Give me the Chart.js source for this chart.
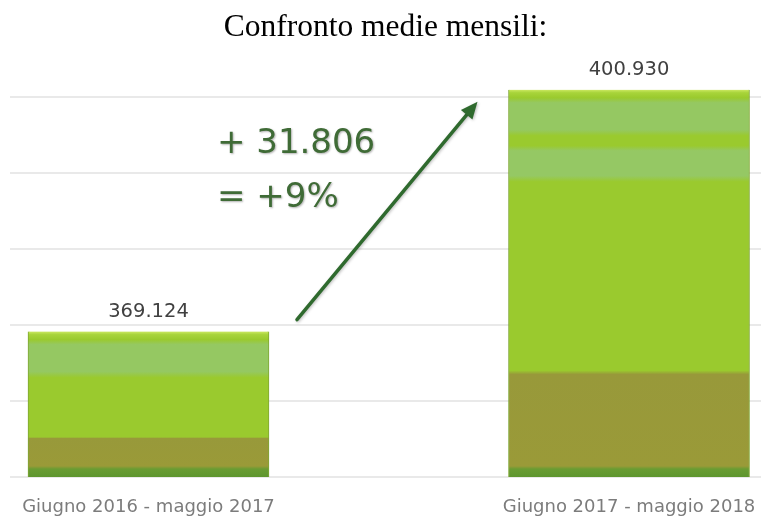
<!DOCTYPE html>
<html><head><meta charset="utf-8">
<script src="https://cdn.jsdelivr.net/npm/chart.js@4"></script>
<style>html,body{margin:0;padding:0;background:#fff;overflow:hidden}#wrap{width:761px;height:517px;position:relative}</style>
</head><body><div id="wrap"><canvas id="c"></canvas></div>
<script>
const chartTitle = 'Confronto medie mensili:';
const categories = ['Giugno 2016 - maggio 2017', 'Giugno 2017 - maggio 2018'];
const values = [369124, 400930];
const yTickValues = [350000, 360000, 370000, 380000, 390000, 400000];

const fmt = n => String(Math.round(n)).replace(/\B(?=(\d{3})+(?!\d))/g, '.');
const diff = values[1] - values[0];
const pct = Math.round(diff / values[0] * 100);
const annoLines = ['+ ' + fmt(diff), '= +' + pct + '%'];

function barFill(context) {
  const chart = context.chart;
  if (!chart.chartArea) return '#9aca2e';
  const y = chart.scales.y;
  const top = y.getPixelForValue(context.raw.y);
  const bottom = y.getPixelForValue(y.min);
  const h = Math.max(bottom - top, 1);
  const f = px => Math.min(Math.max(px / h, 0), 1);
  const g = chart.ctx.createLinearGradient(0, top, 0, bottom);
  g.addColorStop(0, '#cbe862');
  g.addColorStop(f(3), '#a8d43a');
  g.addColorStop(f(8), '#9aca2e');
  g.addColorStop(f(13), '#95c862');
  g.addColorStop(f(40), '#95c862');
  g.addColorStop(f(46), '#9aca2e');
  if (h > 200) {
    g.addColorStop(f(56), '#9aca2e');
    g.addColorStop(f(61), '#95c864');
    g.addColorStop(f(86), '#95c864');
    g.addColorStop(f(92), '#9aca2e');
  }
  g.addColorStop(0.725, '#9aca2e');
  g.addColorStop(0.735, '#98993a');
  g.addColorStop(f(h - 11), '#9a9a38');
  g.addColorStop(f(h - 8), '#6a9c32');
  g.addColorStop(1, '#5e962e');
  return g;
}

const annotate = {
  id: 'annotate',
  afterDatasetsDraw(chart) {
    const {ctx, scales: {y}} = chart;
    const meta = chart.getDatasetMeta(0);
    const b0 = meta.data[0], b1 = meta.data[1];
    ctx.save();
    ctx.font = '19.5px "DejaVu Sans"';
    ctx.fillStyle = '#404040';
    ctx.textAlign = 'center';
    ctx.textBaseline = 'alphabetic';
    meta.data.forEach((el, i) => ctx.fillText(fmt(values[i]), el.x, el.y - 15));
    const x0 = b0.x + b0.width / 2 + 28, y0 = b0.y - 12;
    const x1 = b1.x - b1.width / 2 - 31, y1 = b1.y + 12;
    const ang = Math.atan2(y1 - y0, x1 - x0);
    const hl = 17, hw = 7.5;
    const bx = x1 - hl * Math.cos(ang), by = y1 - hl * Math.sin(ang);
    ctx.shadowColor = 'rgba(0,0,0,0.25)';
    ctx.shadowBlur = 3; ctx.shadowOffsetX = 1; ctx.shadowOffsetY = 1;
    ctx.strokeStyle = '#2f6a2e'; ctx.fillStyle = '#2f6a2e';
    ctx.lineWidth = 3.5; ctx.lineCap = 'round';
    ctx.beginPath(); ctx.moveTo(x0, y0); ctx.lineTo(bx, by); ctx.stroke();
    ctx.beginPath();
    ctx.moveTo(x1, y1);
    ctx.lineTo(bx + hw * Math.sin(ang), by - hw * Math.cos(ang));
    ctx.lineTo(bx - hw * Math.sin(ang), by + hw * Math.cos(ang));
    ctx.closePath(); ctx.fill();
    ctx.font = '34px "DejaVu Sans"';
    ctx.fillStyle = '#3f6b36';
    ctx.textAlign = 'left';
    ctx.shadowColor = 'rgba(0,0,0,0.3)';
    ctx.shadowBlur = 2; ctx.shadowOffsetX = 1; ctx.shadowOffsetY = 1;
    const tx = b0.x + b0.width / 2 - 52;
    ctx.fillText(annoLines[0], tx, y.getPixelForValue(392600));
    ctx.fillText(annoLines[1], tx, y.getPixelForValue(385500));
    ctx.restore();
  }
};

new Chart(document.getElementById('c'), {
  type: 'bar',
  data: {
    datasets: [{
      data: values.map((v, i) => ({x: i, y: v})),
      backgroundColor: barFill,
      borderColor: '#7ea632',
      borderWidth: {left: 1, right: 1, top: 0, bottom: 0},
      barThickness: 241,
      borderSkipped: false
    }]
  },
  options: {
    responsive: true,
    maintainAspectRatio: false,
    animation: false,
    layout: {padding: {left: 10, right: 0, top: 0, bottom: 0}},
    plugins: {
      legend: {display: false},
      tooltip: {enabled: false},
      title: {
        display: true,
        text: chartTitle,
        color: '#000',
        font: {family: '"Liberation Serif"', size: 31.5, weight: 'normal'},
        padding: {top: 9, bottom: 12}
      }
    },
    scales: {
      x: {
        type: 'linear',
        offset: false,
        min: -0.2882,
        max: 1.2747,
        grid: {display: false, offset: false},
        border: {display: false},
        afterBuildTicks: s => { s.ticks = categories.map((_, i) => ({value: i})); },
        afterFit: s => { s.height = 40; s.paddingLeft = 0; s.paddingRight = 0; },
        ticks: {
          callback: v => categories[v],
          color: '#7c7c7c',
          font: {family: '"DejaVu Sans"', size: 18},
          padding: 12,
          maxRotation: 0,
          autoSkip: false
        }
      },
      y: {
        min: yTickValues[0],
        max: 405000,
        afterBuildTicks: s => { s.ticks = yTickValues.map(v => ({value: v})); },
        afterFit: s => { s.width = 0; s.paddingTop = 0; s.paddingBottom = 0; },
        grid: {color: '#e9e9e9', lineWidth: 2, drawTicks: false},
        border: {display: false},
        ticks: {display: false}
      }
    }
  },
  plugins: [annotate]
});
</script>
</body></html>
